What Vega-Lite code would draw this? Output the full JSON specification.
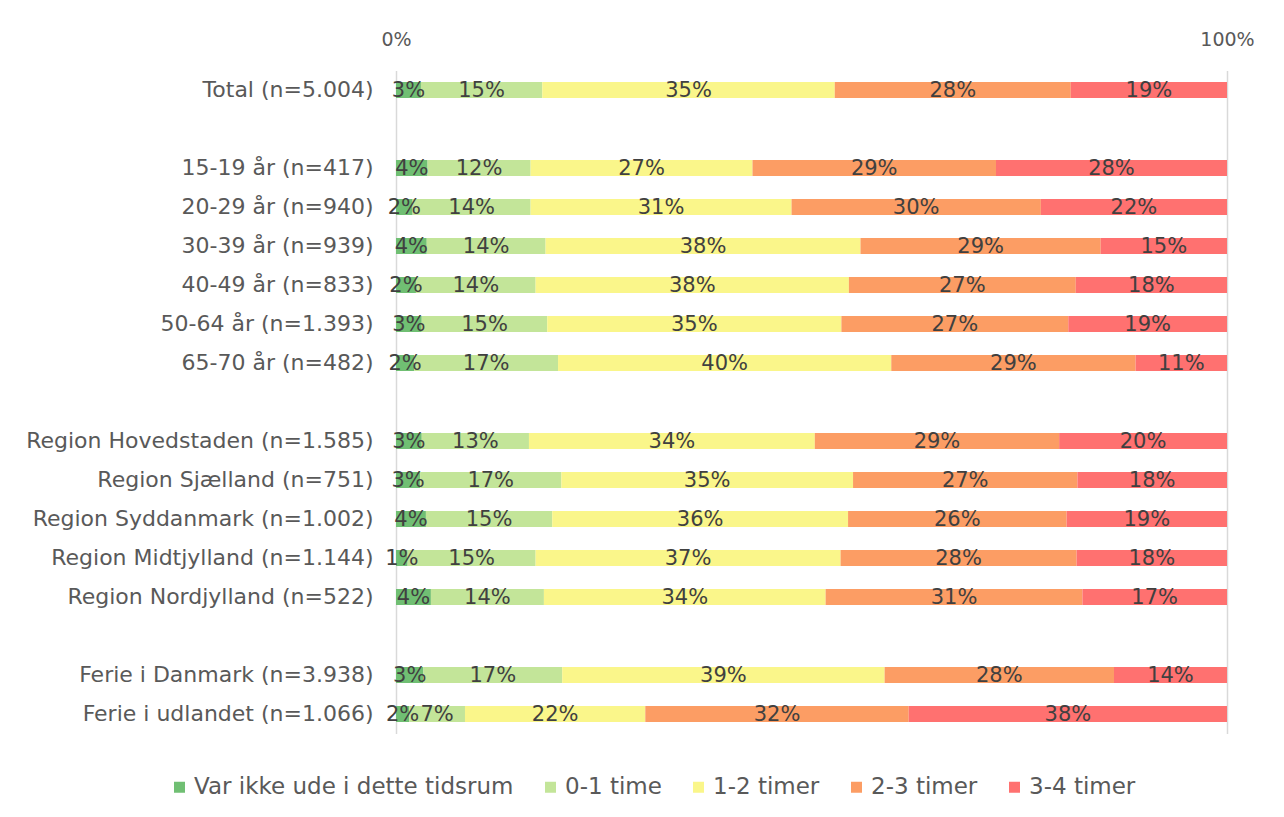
{
  "$schema": "https://vega.github.io/schema/vega-lite/v6.json",
  "width": 831,
  "height": 663,
  "autosize": {"type": "none"},
  "padding": {"left": 396, "top": 70.5, "right": 57, "bottom": 83.5},
  "background": "white",
  "config": {"view": {"stroke": null}, "font": "DejaVu Sans"},
  "data": {
    "values": [
      {"cat": "Total (n=5.004)", "s": 1, "series": "Var ikke ude i dette tidsrum", "value": 3.0},
      {"cat": "Total (n=5.004)", "s": 2, "series": "0-1 time", "value": 14.6},
      {"cat": "Total (n=5.004)", "s": 3, "series": "1-2 timer", "value": 35.2},
      {"cat": "Total (n=5.004)", "s": 4, "series": "2-3 timer", "value": 28.4},
      {"cat": "Total (n=5.004)", "s": 5, "series": "3-4 timer", "value": 18.8},
      {"cat": "15-19 år (n=417)", "s": 1, "series": "Var ikke ude i dette tidsrum", "value": 3.8},
      {"cat": "15-19 år (n=417)", "s": 2, "series": "0-1 time", "value": 12.4},
      {"cat": "15-19 år (n=417)", "s": 3, "series": "1-2 timer", "value": 26.7},
      {"cat": "15-19 år (n=417)", "s": 4, "series": "2-3 timer", "value": 29.3},
      {"cat": "15-19 år (n=417)", "s": 5, "series": "3-4 timer", "value": 27.8},
      {"cat": "20-29 år (n=940)", "s": 1, "series": "Var ikke ude i dette tidsrum", "value": 2.0},
      {"cat": "20-29 år (n=940)", "s": 2, "series": "0-1 time", "value": 14.2},
      {"cat": "20-29 år (n=940)", "s": 3, "series": "1-2 timer", "value": 31.4},
      {"cat": "20-29 år (n=940)", "s": 4, "series": "2-3 timer", "value": 30.0},
      {"cat": "20-29 år (n=940)", "s": 5, "series": "3-4 timer", "value": 22.4},
      {"cat": "30-39 år (n=939)", "s": 1, "series": "Var ikke ude i dette tidsrum", "value": 3.7},
      {"cat": "30-39 år (n=939)", "s": 2, "series": "0-1 time", "value": 14.3},
      {"cat": "30-39 år (n=939)", "s": 3, "series": "1-2 timer", "value": 37.9},
      {"cat": "30-39 år (n=939)", "s": 4, "series": "2-3 timer", "value": 28.9},
      {"cat": "30-39 år (n=939)", "s": 5, "series": "3-4 timer", "value": 15.2},
      {"cat": "40-49 år (n=833)", "s": 1, "series": "Var ikke ude i dette tidsrum", "value": 2.4},
      {"cat": "40-49 år (n=833)", "s": 2, "series": "0-1 time", "value": 14.4},
      {"cat": "40-49 år (n=833)", "s": 3, "series": "1-2 timer", "value": 37.7},
      {"cat": "40-49 år (n=833)", "s": 4, "series": "2-3 timer", "value": 27.3},
      {"cat": "40-49 år (n=833)", "s": 5, "series": "3-4 timer", "value": 18.2},
      {"cat": "50-64 år (n=1.393)", "s": 1, "series": "Var ikke ude i dette tidsrum", "value": 3.1},
      {"cat": "50-64 år (n=1.393)", "s": 2, "series": "0-1 time", "value": 15.1},
      {"cat": "50-64 år (n=1.393)", "s": 3, "series": "1-2 timer", "value": 35.4},
      {"cat": "50-64 år (n=1.393)", "s": 4, "series": "2-3 timer", "value": 27.3},
      {"cat": "50-64 år (n=1.393)", "s": 5, "series": "3-4 timer", "value": 19.1},
      {"cat": "65-70 år (n=482)", "s": 1, "series": "Var ikke ude i dette tidsrum", "value": 2.2},
      {"cat": "65-70 år (n=482)", "s": 2, "series": "0-1 time", "value": 17.3},
      {"cat": "65-70 år (n=482)", "s": 3, "series": "1-2 timer", "value": 40.1},
      {"cat": "65-70 år (n=482)", "s": 4, "series": "2-3 timer", "value": 29.4},
      {"cat": "65-70 år (n=482)", "s": 5, "series": "3-4 timer", "value": 11.0},
      {"cat": "Region Hovedstaden (n=1.585)", "s": 1, "series": "Var ikke ude i dette tidsrum", "value": 3.1},
      {"cat": "Region Hovedstaden (n=1.585)", "s": 2, "series": "0-1 time", "value": 12.9},
      {"cat": "Region Hovedstaden (n=1.585)", "s": 3, "series": "1-2 timer", "value": 34.4},
      {"cat": "Region Hovedstaden (n=1.585)", "s": 4, "series": "2-3 timer", "value": 29.4},
      {"cat": "Region Hovedstaden (n=1.585)", "s": 5, "series": "3-4 timer", "value": 20.2},
      {"cat": "Region Sjælland (n=751)", "s": 1, "series": "Var ikke ude i dette tidsrum", "value": 2.9},
      {"cat": "Region Sjælland (n=751)", "s": 2, "series": "0-1 time", "value": 17.0},
      {"cat": "Region Sjælland (n=751)", "s": 3, "series": "1-2 timer", "value": 35.1},
      {"cat": "Region Sjælland (n=751)", "s": 4, "series": "2-3 timer", "value": 27.0},
      {"cat": "Region Sjælland (n=751)", "s": 5, "series": "3-4 timer", "value": 18.0},
      {"cat": "Region Syddanmark (n=1.002)", "s": 1, "series": "Var ikke ude i dette tidsrum", "value": 3.6},
      {"cat": "Region Syddanmark (n=1.002)", "s": 2, "series": "0-1 time", "value": 15.2},
      {"cat": "Region Syddanmark (n=1.002)", "s": 3, "series": "1-2 timer", "value": 35.6},
      {"cat": "Region Syddanmark (n=1.002)", "s": 4, "series": "2-3 timer", "value": 26.3},
      {"cat": "Region Syddanmark (n=1.002)", "s": 5, "series": "3-4 timer", "value": 19.3},
      {"cat": "Region Midtjylland (n=1.144)", "s": 1, "series": "Var ikke ude i dette tidsrum", "value": 1.4},
      {"cat": "Region Midtjylland (n=1.144)", "s": 2, "series": "0-1 time", "value": 15.4},
      {"cat": "Region Midtjylland (n=1.144)", "s": 3, "series": "1-2 timer", "value": 36.7},
      {"cat": "Region Midtjylland (n=1.144)", "s": 4, "series": "2-3 timer", "value": 28.4},
      {"cat": "Region Midtjylland (n=1.144)", "s": 5, "series": "3-4 timer", "value": 18.1},
      {"cat": "Region Nordjylland (n=522)", "s": 1, "series": "Var ikke ude i dette tidsrum", "value": 4.2},
      {"cat": "Region Nordjylland (n=522)", "s": 2, "series": "0-1 time", "value": 13.6},
      {"cat": "Region Nordjylland (n=522)", "s": 3, "series": "1-2 timer", "value": 33.9},
      {"cat": "Region Nordjylland (n=522)", "s": 4, "series": "2-3 timer", "value": 30.9},
      {"cat": "Region Nordjylland (n=522)", "s": 5, "series": "3-4 timer", "value": 17.4},
      {"cat": "Ferie i Danmark (n=3.938)", "s": 1, "series": "Var ikke ude i dette tidsrum", "value": 3.3},
      {"cat": "Ferie i Danmark (n=3.938)", "s": 2, "series": "0-1 time", "value": 16.7},
      {"cat": "Ferie i Danmark (n=3.938)", "s": 3, "series": "1-2 timer", "value": 38.8},
      {"cat": "Ferie i Danmark (n=3.938)", "s": 4, "series": "2-3 timer", "value": 27.6},
      {"cat": "Ferie i Danmark (n=3.938)", "s": 5, "series": "3-4 timer", "value": 13.6},
      {"cat": "Ferie i udlandet (n=1.066)", "s": 1, "series": "Var ikke ude i dette tidsrum", "value": 1.6},
      {"cat": "Ferie i udlandet (n=1.066)", "s": 2, "series": "0-1 time", "value": 6.7},
      {"cat": "Ferie i udlandet (n=1.066)", "s": 3, "series": "1-2 timer", "value": 21.7},
      {"cat": "Ferie i udlandet (n=1.066)", "s": 4, "series": "2-3 timer", "value": 31.7},
      {"cat": "Ferie i udlandet (n=1.066)", "s": 5, "series": "3-4 timer", "value": 38.3}
    ]
  },
  "transform": [
    {"stack": "value", "groupby": ["cat"], "sort": [{"field": "s", "order": "ascending"}], "offset": "normalize", "as": ["v0", "v1"]},
    {"calculate": "(datum.v0 + datum.v1) / 2", "as": "mid"},
    {"calculate": "format(datum.value, '.0f') + '%'", "as": "lbl"}
  ],
  "encoding": {
    "y": {
      "field": "cat",
      "type": "nominal",
      "title": null,
      "scale": {
        "domain": ["Total (n=5.004)", " ", "15-19 år (n=417)", "20-29 år (n=940)", "30-39 år (n=939)", "40-49 år (n=833)", "50-64 år (n=1.393)", "65-70 år (n=482)", "  ", "Region Hovedstaden (n=1.585)", "Region Sjælland (n=751)", "Region Syddanmark (n=1.002)", "Region Midtjylland (n=1.144)", "Region Nordjylland (n=522)", "   ", "Ferie i Danmark (n=3.938)", "Ferie i udlandet (n=1.066)"],
        "paddingInner": 0.59,
        "paddingOuter": 0.295
      },
      "axis": {"domain": false, "ticks": false, "labelPadding": 23, "labelFontSize": 22, "labelColor": "#595959", "labelLimit": 500}
    }
  },
  "layer": [
    {
      "mark": {"type": "bar"},
      "encoding": {
        "x": {
          "field": "v0",
          "type": "quantitative",
          "scale": {"domain": [0, 1]},
          "axis": {"orient": "top", "values": [0, 1], "format": ".0%", "title": null, "domain": false, "ticks": false, "grid": true, "gridColor": "#d9d9d9", "gridWidth": 1.5, "labelFontSize": 19, "labelColor": "#595959", "labelPadding": 21, "labelFlush": false}
        },
        "x2": {"field": "v1"},
        "color": {
          "field": "series",
          "type": "nominal",
          "scale": {
            "domain": ["Var ikke ude i dette tidsrum", "0-1 time", "1-2 timer", "2-3 timer", "3-4 timer"],
            "range": ["#70bf73", "#c3e599", "#faf68a", "#fc9d64", "#ff7170"]
          },
          "legend": {
            "orient": "none",
            "legendX": -228,
            "legendY": 705,
            "direction": "horizontal",
            "title": null,
            "symbolType": "square",
            "symbolSize": 121,
            "symbolStrokeWidth": 0,
            "labelFontSize": 23,
            "labelColor": "#595959",
            "labelOffset": 3,
            "columnPadding": 25,
            "labelLimit": 500
          }
        }
      }
    },
    {
      "mark": {"type": "text", "fontSize": 21, "color": "#404040", "baseline": "middle", "dy": 1},
      "encoding": {
        "x": {
          "field": "mid",
          "type": "quantitative",
          "axis": {"orient": "top", "values": [0, 1], "format": ".0%", "title": null, "domain": false, "ticks": false, "grid": true, "gridColor": "#d9d9d9", "gridWidth": 1.5, "labelFontSize": 19, "labelColor": "#595959", "labelPadding": 21, "labelFlush": false}
        },
        "text": {"field": "lbl"}
      }
    }
  ]
}
